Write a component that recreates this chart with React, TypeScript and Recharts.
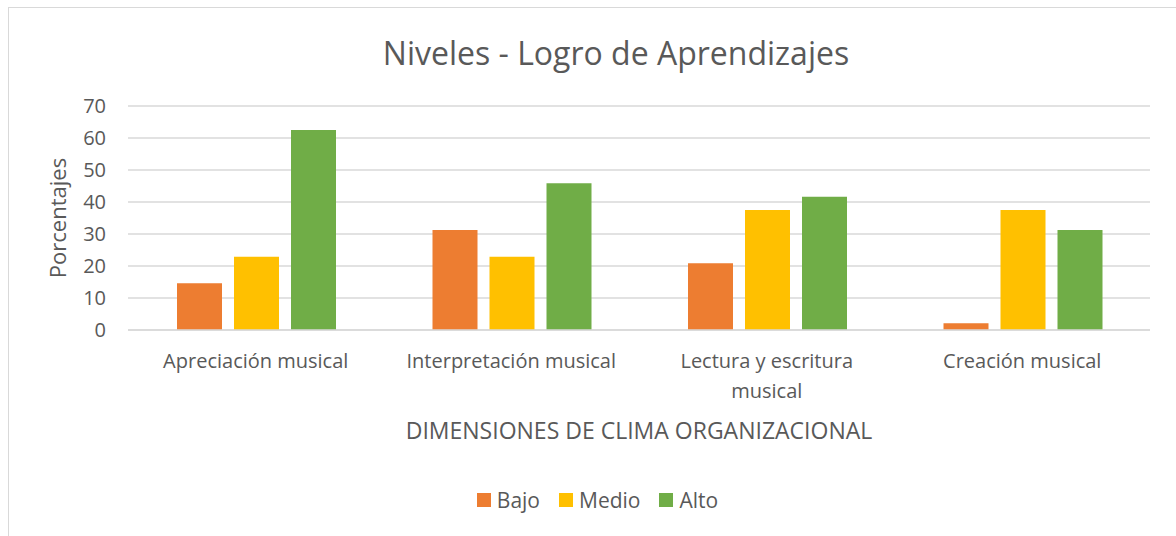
import { BarChart, Bar, XAxis, YAxis, CartesianGrid, Legend, Label } from "recharts";

const categories = ["Apreciación musical", "Interpretación musical", "Lectura y escritura musical", "Creación musical"];
const seriesNames = ["Bajo", "Medio", "Alto"];
const bajo = [14.58, 31.25, 20.83, 2.08];
const medio = [22.92, 22.92, 37.5, 37.5];
const alto = [62.5, 45.83, 41.67, 31.25];
const yTicks = [0, 10, 20, 30, 40, 50, 60, 70];

const data = categories.map((name, i) => ({ name, Bajo: bajo[i], Medio: medio[i], Alto: alto[i] }));

const FONT = "'Open Sans', sans-serif";
const GRAY = "#595959";

// greedy wrap by character count, labels are short
const wrap = (s: string, max: number) => {
  const lines: string[] = [];
  let cur = "";
  s.split(" ").forEach((w) => {
    const next = cur ? cur + " " + w : w;
    if (next.length > max && cur) {
      lines.push(cur);
      cur = w;
    } else {
      cur = next;
    }
  });
  if (cur) lines.push(cur);
  return lines;
};

const CategoryTick = (props: any) => {
  const { x, y, payload } = props;
  const lines = wrap(String(payload.value), 22);
  return (
    <text x={x} y={y + 30} textAnchor="middle" fontSize={20} fontFamily={FONT} fill={GRAY}>
      {lines.map((l, i) => (
        <tspan key={i} x={x} dy={i === 0 ? 0 : 30}>
          {l}
        </tspan>
      ))}
    </text>
  );
};

const LegendContent = (props: any) => {
  const items = [...(props.payload || [])].sort(
    (a: any, b: any) => seriesNames.indexOf(a.value) - seriesNames.indexOf(b.value)
  );
  return (
    <div style={{ display: "flex", justifyContent: "center", alignItems: "center", fontFamily: FONT, fontSize: 21, color: GRAY }}>
      {items.map((it: any) => (
        <div key={it.value} style={{ display: "flex", alignItems: "center", marginRight: 19 }}>
          <span style={{ display: "inline-block", width: 14, height: 14, background: it.color, marginRight: 6 }} />
          <span>{it.value}</span>
        </div>
      ))}
    </div>
  );
};

export default function App() {
  return (
    <div style={{ position: "absolute", left: 0, top: 0, width: 1176, height: 536, overflow: "hidden", background: "#fff" }}>
      <div
        style={{
          position: "absolute",
          left: 8,
          top: 7,
          width: 1300,
          height: 700,
          borderLeft: "1.5px solid #d9d9d9",
          borderTop: "1.5px solid #d9d9d9",
        }}
      />
      <div
        style={{
          position: "absolute",
          left: 0,
          top: 31,
          width: 1232,
          textAlign: "center",
          fontFamily: FONT,
          fontSize: 32,
          lineHeight: "44px",
          color: GRAY,
        }}
      >
        Niveles - Logro de Aprendizajes
      </div>
      <div style={{ position: "absolute", left: 0, top: 0 }}>
        <BarChart
          width={1176}
          height={536}
          data={data}
          margin={{ top: 106, right: 26, left: 68, bottom: 106 }}
          barCategoryGap={49}
          barGap={12}
        >
          <CartesianGrid vertical={false} stroke="#d9d9d9" strokeWidth={1.5} />
          <XAxis
            dataKey="name"
            height={100}
            axisLine={{ stroke: "#d9d9d9", strokeWidth: 1.5 }}
            tickLine={false}
            tick={<CategoryTick />}
            interval={0}
          >
            <Label
              value="DIMENSIONES DE CLIMA ORGANIZACIONAL"
              position="insideBottom"
              offset={-9}
              style={{ fontFamily: FONT, fontSize: 23, fill: GRAY }}
            />
          </XAxis>
          <YAxis
            width={60}
            domain={[0, 70]}
            ticks={yTicks}
            interval={0}
            axisLine={false}
            tickLine={false}
            tick={{ fontFamily: FONT, fontSize: 20, fill: GRAY }}
            tickMargin={16}
          >
            <Label
              value="Porcentajes"
              angle={-90}
              position="insideLeft"
              offset={-10}
              style={{ fontFamily: FONT, fontSize: 22, fill: GRAY, textAnchor: "middle" }}
            />
          </YAxis>
          <Legend
            verticalAlign="middle"
            align="center"
            content={<LegendContent />}
            wrapperStyle={{ top: 486, left: 19, width: 1176 }}
          />
          <Bar dataKey="Bajo" fill="#ed7d31" isAnimationActive={false} />
          <Bar dataKey="Medio" fill="#ffc000" isAnimationActive={false} />
          <Bar dataKey="Alto" fill="#70ad47" isAnimationActive={false} />
        </BarChart>
      </div>
    </div>
  );
}
